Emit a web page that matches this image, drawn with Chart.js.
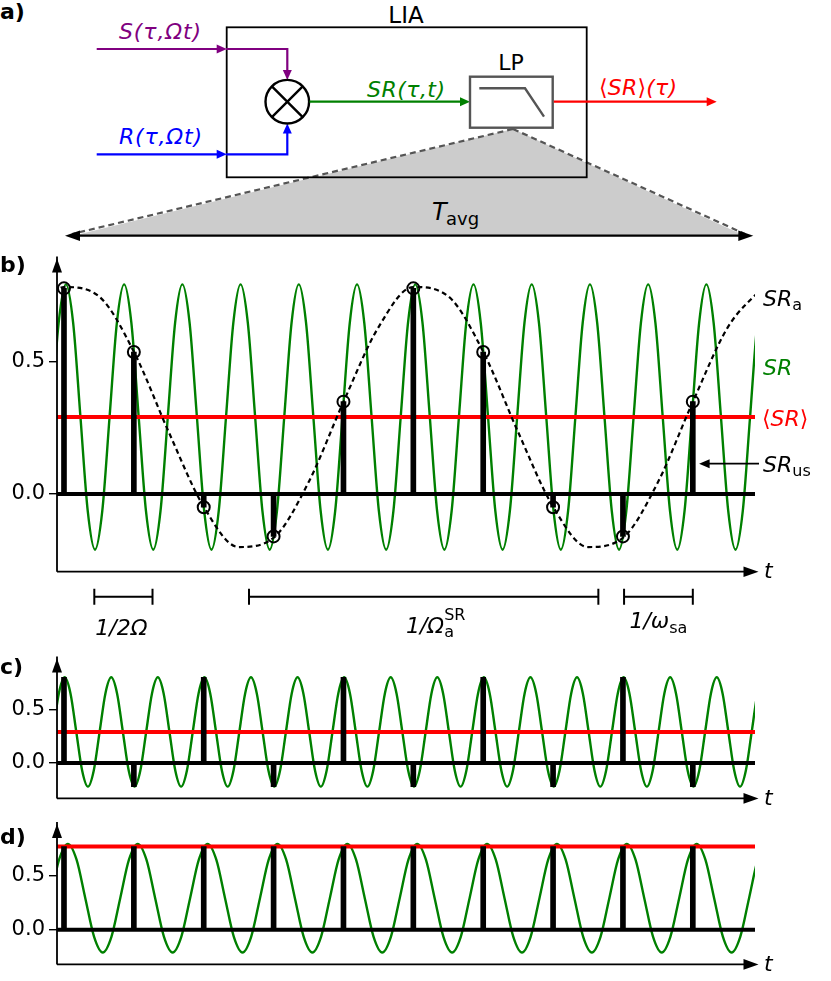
<!DOCTYPE html>
<html>
<head>
<meta charset="utf-8">
<script src="https://cdn.jsdelivr.net/npm/chart.js@4.4.0/dist/chart.umd.min.js"></script>
<style>
  body { margin: 0; background: #fff; }
  #fig { position: relative; width: 831px; height: 981px; font-family: "DejaVu Sans"; }
  #fig svg, #fig canvas { position: absolute; left: 0; }
</style>
</head>
<body>
<div id="fig">
  <svg width="831" height="250" style="top:0" font-family="DejaVu Sans">
    <polygon points="513,129 74,235.5 744,235.5" fill="#cccccc"/>
    <path d="M513,129 L72,234 M513,129 L745,234" stroke="#555" stroke-width="2.2" stroke-dasharray="6,4" fill="none"/>
    <rect x="226.7" y="27.3" width="360" height="150" fill="none" stroke="#000" stroke-width="1.8"/>
    <text x="406" y="23" text-anchor="middle" font-size="23">LIA</text>
    <text x="0" y="19" font-size="22" font-weight="bold">a)</text>

    <path d="M96.7,49 H218 M226,49 H287.3 V71" stroke="#800080" stroke-width="2.2" fill="none"/>
    <polygon points="226.7,49 216.7,44.5 216.7,53.5" fill="#800080"/>
    <polygon points="287.3,80 282.8,70 291.8,70" fill="#800080"/>
    <text x="119" y="39" font-size="22" font-style="italic" fill="#800080" textLength="82" lengthAdjust="spacing">S(τ,Ωt)</text>

    <path d="M96.7,154.3 H218 M226,154.3 H287.3 V132" stroke="#0000ff" stroke-width="2.2" fill="none"/>
    <polygon points="226.7,154.3 216.7,149.8 216.7,158.8" fill="#0000ff"/>
    <polygon points="287.3,123.5 282.8,133.5 291.8,133.5" fill="#0000ff"/>
    <text x="119" y="144" font-size="22" font-style="italic" fill="#0000ff" textLength="83" lengthAdjust="spacing">R(τ,Ωt)</text>

    <circle cx="287.3" cy="101.7" r="21.8" fill="#fff" stroke="#000" stroke-width="2.4"/>
    <path d="M271.9,86.3 L302.7,117.1 M302.7,86.3 L271.9,117.1" stroke="#000" stroke-width="2.4"/>

    <path d="M309.5,101.7 H461" stroke="#008000" stroke-width="2.2" fill="none"/>
    <polygon points="470,101.7 460,97.2 460,106.2" fill="#008000"/>
    <text x="367" y="97" font-size="22" font-style="italic" fill="#008000" textLength="78" lengthAdjust="spacing">SR(τ,t)</text>

    <rect x="470" y="76.7" width="82.7" height="51" fill="#fff" stroke="#555" stroke-width="2.4"/>
    <polyline points="479.3,88.3 525,88.3 544,116.7" fill="none" stroke="#555" stroke-width="2.4"/>
    <text x="511" y="70" text-anchor="middle" font-size="22">LP</text>

    <path d="M553.8,101.7 H707" stroke="#ff0000" stroke-width="2.2" fill="none"/>
    <polygon points="716.7,101.7 706.7,97.2 706.7,106.2" fill="#ff0000"/>
    <text x="599" y="95" font-size="22" font-style="italic" fill="#ff0000" textLength="78" lengthAdjust="spacing"><tspan font-style="normal">⟨</tspan>SR<tspan font-style="normal">⟩</tspan>(τ)</text>

    <path d="M78,235.7 H740" stroke="#000" stroke-width="2.2" fill="none"/>
    <polygon points="65,235.7 80,230.4 80,241" fill="#000"/>
    <polygon points="753.3,235.7 738.3,230.4 738.3,241" fill="#000"/>
    <text x="432" y="220" font-size="24" font-style="italic">T</text>
    <text x="446" y="225" font-size="18">avg</text>
  </svg>
  <canvas id="panelB" width="831" height="400" style="top:250px;width:831px;height:400px"></canvas>
  <canvas id="panelC" width="831" height="165" style="top:650px;width:831px;height:165px"></canvas>
  <canvas id="panelD" width="831" height="166" style="top:815px;width:831px;height:166px"></canvas>
</div>
<script>
// === DADOS ===
const sampleT = [0, 1, 2, 3, 4, 5, 6, 7, 8, 9];
const yTicks = [0, 0.5];
const tRange = [-0.1, 9.89];

// b) SR (8 pontos por periodo), alias SR_a e amostras SR_us
const srStartB = -0.181, srStepB = 0.10417;
const srB = [
  0.29, 0.644, 0.79, 0.644, 0.29, -0.064, -0.21, -0.064,
  0.29, 0.644, 0.79, 0.644, 0.29, -0.064, -0.21, -0.064,
  0.29, 0.644, 0.79, 0.644, 0.29, -0.064, -0.21, -0.064,
  0.29, 0.644, 0.79, 0.644, 0.29, -0.064, -0.21, -0.064,
  0.29, 0.644, 0.79, 0.644, 0.29, -0.064, -0.21, -0.064,
  0.29, 0.644, 0.79, 0.644, 0.29, -0.064, -0.21, -0.064,
  0.29, 0.644, 0.79, 0.644, 0.29, -0.064, -0.21, -0.064,
  0.29, 0.644, 0.79, 0.644, 0.29, -0.064, -0.21, -0.064,
  0.29, 0.644, 0.79, 0.644, 0.29, -0.064, -0.21, -0.064,
  0.29, 0.644, 0.79, 0.644, 0.29, -0.064, -0.21, -0.064,
  0.29, 0.644, 0.79, 0.644, 0.29, -0.064, -0.21, -0.064,
  0.29, 0.644, 0.79, 0.644, 0.29, -0.064, -0.21, -0.064,
  0.29, 0.644, 0.79
];
const aliasT = [-0.5, 0, 0.5, 1, 1.5, 2, 2.5, 3, 3.5, 4, 4.5, 5, 5.5, 6, 6.5, 7, 7.5, 8, 8.5, 9, 9.5, 10];
const aliasB = [0.628, 0.78, 0.745, 0.536, 0.233, -0.048, -0.2, -0.165, 0.044, 0.347,
                0.628, 0.78, 0.745, 0.536, 0.233, -0.048, -0.2, -0.165, 0.044, 0.347, 0.628, 0.78];
const usB = [0.775, 0.535, -0.05, -0.16, 0.348, 0.775, 0.535, -0.05, -0.16, 0.348];
const meanB = 0.29;
// intervalos marcados abaixo de b): 1/2Ω, 1/Ω_a^SR, 1/ω_sa
const spansB = [[0.434, 1.267], [2.648, 7.648], [8.016, 9.0]];

// c)
const srStartC = -0.157, srStepC = 0.08333;
const srC = [
  0.29, 0.65, 0.8, 0.65, 0.29, -0.07, -0.22, -0.07,
  0.29, 0.65, 0.8, 0.65, 0.29, -0.07, -0.22, -0.07,
  0.29, 0.65, 0.8, 0.65, 0.29, -0.07, -0.22, -0.07,
  0.29, 0.65, 0.8, 0.65, 0.29, -0.07, -0.22, -0.07,
  0.29, 0.65, 0.8, 0.65, 0.29, -0.07, -0.22, -0.07,
  0.29, 0.65, 0.8, 0.65, 0.29, -0.07, -0.22, -0.07,
  0.29, 0.65, 0.8, 0.65, 0.29, -0.07, -0.22, -0.07,
  0.29, 0.65, 0.8, 0.65, 0.29, -0.07, -0.22, -0.07,
  0.29, 0.65, 0.8, 0.65, 0.29, -0.07, -0.22, -0.07,
  0.29, 0.65, 0.8, 0.65, 0.29, -0.07, -0.22, -0.07,
  0.29, 0.65, 0.8, 0.65, 0.29, -0.07, -0.22, -0.07,
  0.29, 0.65, 0.8, 0.65, 0.29, -0.07, -0.22, -0.07,
  0.29, 0.65, 0.8, 0.65, 0.29, -0.07, -0.22, -0.07,
  0.29, 0.65, 0.8, 0.65, 0.29, -0.07, -0.22, -0.07,
  0.29, 0.65, 0.8, 0.65, 0.29, -0.07, -0.22, -0.07,
  0.29, 0.65, 0.8
];
const usC = [0.8, -0.22, 0.8, -0.22, 0.8, -0.22, 0.8, -0.22, 0.8, -0.22];
const meanC = 0.29;

// d)
const srStartD = -0.195, srStepD = 0.125;
const srD = [
  0.29, 0.644, 0.79, 0.644, 0.29, -0.064, -0.21, -0.064,
  0.29, 0.644, 0.79, 0.644, 0.29, -0.064, -0.21, -0.064,
  0.29, 0.644, 0.79, 0.644, 0.29, -0.064, -0.21, -0.064,
  0.29, 0.644, 0.79, 0.644, 0.29, -0.064, -0.21, -0.064,
  0.29, 0.644, 0.79, 0.644, 0.29, -0.064, -0.21, -0.064,
  0.29, 0.644, 0.79, 0.644, 0.29, -0.064, -0.21, -0.064,
  0.29, 0.644, 0.79, 0.644, 0.29, -0.064, -0.21, -0.064,
  0.29, 0.644, 0.79, 0.644, 0.29, -0.064, -0.21, -0.064,
  0.29, 0.644, 0.79, 0.644, 0.29, -0.064, -0.21, -0.064,
  0.29, 0.644, 0.79, 0.644, 0.29, -0.064, -0.21, -0.064,
  0.29, 0.644, 0.79
];
const usD = [0.765, 0.765, 0.765, 0.765, 0.765, 0.765, 0.765, 0.765, 0.765, 0.765];
const meanD = 0.765;

// === DESENHO ===
const FONT = '"DejaVu Sans"';
const IT = `italic 22px ${FONT}`, UP = `22px ${FONT}`, SM = `16px ${FONT}`;

function arrow(ctx, tx, ty, dx, dy, len, half) {
  const bx = tx - dx * len, by = ty - dy * len;
  ctx.beginPath();
  ctx.moveTo(tx, ty);
  ctx.lineTo(bx - dy * half, by + dx * half);
  ctx.lineTo(bx + dy * half, by - dx * half);
  ctx.closePath();
  ctx.fill();
}

// parts: [texto, fonte, deslocamento y, sem avanço]
function drawRuns(ctx, parts, x, y, color, align) {
  ctx.fillStyle = color;
  ctx.textBaseline = 'alphabetic';
  ctx.textAlign = 'left';
  let w = 0;
  parts.forEach(p => { ctx.font = p[1]; if (!p[3]) w += ctx.measureText(p[0]).width; });
  let cx = align === 'center' ? x - w / 2 : x;
  parts.forEach(p => {
    ctx.font = p[1];
    ctx.fillText(p[0], cx, y + p[2]);
    if (!p[3]) cx += ctx.measureText(p[0]).width;
  });
}

function axesPlugin(label, labelY, extra) {
  return {
    id: 'axes',
    afterDatasetsDraw(chart) {
      const { ctx, chartArea: a } = chart;
      ctx.save();
      ctx.strokeStyle = '#000';
      ctx.fillStyle = '#000';
      ctx.lineWidth = 1.8;
      ctx.beginPath();
      ctx.moveTo(a.left, a.bottom);
      ctx.lineTo(a.left, a.top - 10);
      ctx.moveTo(a.left, a.bottom);
      ctx.lineTo(a.right - 8, a.bottom);
      ctx.stroke();
      arrow(ctx, a.left, a.top - 8, 0, -1, 14, 5);
      arrow(ctx, a.right + 3.5, a.bottom, 1, 0, 15, 5.3);
      ctx.font = IT;
      ctx.textBaseline = 'middle';
      ctx.fillText('t', a.right + 9, a.bottom + 1);
      ctx.font = `bold 22px ${FONT}`;
      ctx.textBaseline = 'alphabetic';
      ctx.fillText(label, 0, labelY);
      if (extra) extra(chart);
      ctx.restore();
    }
  };
}

function notesB(chart) {
  const { ctx, chartArea: a, scales: { x, y } } = chart;
  const lx = a.right + 8;
  drawRuns(ctx, [['SR', IT, 0], ['a', SM, 4]], lx, y.getPixelForValue(0.74) + 8, '#000');
  drawRuns(ctx, [['SR', IT, 0]], lx, y.getPixelForValue(0.48) + 8, '#008000');
  drawRuns(ctx, [['⟨', UP, 0], ['SR', IT, 0], ['⟩', UP, 0]], lx - 1, y.getPixelForValue(0.287) + 8, '#ff0000');
  const uy = y.getPixelForValue(0.114);
  drawRuns(ctx, [['SR', IT, 0], ['us', SM, 4]], lx, uy + 8, '#000');
  ctx.strokeStyle = '#000';
  ctx.fillStyle = '#000';
  ctx.lineWidth = 1.8;
  const tip = x.getPixelForValue(9.09);
  ctx.beginPath();
  ctx.moveTo(a.right + 4, uy);
  ctx.lineTo(tip + 8, uy);
  ctx.stroke();
  arrow(ctx, tip, uy, -1, 0, 10.5, 4.5);

  // intervalos
  const by = a.bottom + 25;
  ctx.lineWidth = 2;
  spansB.forEach(s => {
    const x0 = x.getPixelForValue(s[0]), x1 = x.getPixelForValue(s[1]);
    ctx.beginPath();
    ctx.moveTo(x0, by); ctx.lineTo(x1, by);
    ctx.moveTo(x0, by - 8); ctx.lineTo(x0, by + 8);
    ctx.moveTo(x1, by - 8); ctx.lineTo(x1, by + 8);
    ctx.stroke();
  });
  const mid = s => (x.getPixelForValue(s[0]) + x.getPixelForValue(s[1])) / 2;
  drawRuns(ctx, [['1/2Ω', IT, 0]], mid(spansB[0]) - 2, a.bottom + 63, '#000', 'center');
  drawRuns(ctx, [['1/Ω', IT, 0], ['a', SM, 4, true], ['SR', SM, -13]], mid(spansB[1]) + 12, a.bottom + 61, '#000', 'center');
  drawRuns(ctx, [['1/ω', IT, 0], ['sa', SM, 5]], mid(spansB[2]), a.bottom + 56.5, '#000', 'center');
}

function makePanel(id, p) {
  const datasets = [
    {
      data: p.sr.map((v, i) => ({ x: p.srStart + i * p.srStep, y: v })),
      borderColor: '#008000', borderWidth: 2.4, pointRadius: 0,
      cubicInterpolationMode: 'monotone', order: 6
    },
    {
      data: tRange.map(t => ({ x: t, y: p.mean })),
      borderColor: '#ff0000', borderWidth: 4, pointRadius: 0, order: 5
    },
    {
      data: tRange.map(t => ({ x: t, y: 0 })),
      borderColor: '#000', borderWidth: 4, pointRadius: 0, order: 4
    },
    {
      type: 'bar',
      data: sampleT.map((t, i) => ({ x: t, y: p.us[i] })),
      backgroundColor: '#000', barThickness: 5, order: 3
    }
  ];
  if (p.alias) {
    datasets.push({
      data: aliasT.map((t, i) => ({ x: t, y: p.alias[i] })),
      borderColor: '#000', borderWidth: 2.2, borderDash: [5, 3.5], pointRadius: 0,
      cubicInterpolationMode: 'monotone', order: 2
    });
    datasets.push({
      data: sampleT.map((t, i) => ({ x: t, y: p.us[i] })),
      showLine: false, pointRadius: 6, pointBorderWidth: 2,
      pointBorderColor: '#000', pointBackgroundColor: 'rgba(0,0,0,0)', order: 1
    });
  }

  return new Chart(document.getElementById(id), {
    type: 'line',
    data: { datasets },
    options: {
      responsive: false,
      animation: false,
      devicePixelRatio: 1,
      events: [],
      layout: { padding: p.padding },
      plugins: { legend: { display: false }, tooltip: { enabled: false } },
      scales: {
        x: { type: 'linear', min: tRange[0], max: tRange[1], display: false, offset: false },
        y: {
          min: p.yRange[0], max: p.yRange[1],
          afterBuildTicks: s => { s.ticks = yTicks.map(v => ({ value: v })); },
          afterFit: s => { s.width = 57; },
          border: { display: false },
          grid: { drawOnChartArea: false, drawTicks: true, tickLength: 8, color: '#000', lineWidth: 1.4 },
          ticks: { color: '#000', padding: 4, font: { family: 'DejaVu Sans', size: 21 }, callback: v => v.toFixed(1) }
        }
      }
    },
    plugins: [axesPlugin(p.label, p.labelY, p.extra)]
  });
}

makePanel('panelB', {
  sr: srB, srStart: srStartB, srStep: srStepB, alias: aliasB, us: usB, mean: meanB,
  yRange: [-0.293, 0.857], padding: { top: 13.5, bottom: 78.3, left: 0, right: 76 },
  label: 'b)', labelY: 22, extra: notesB
});
makePanel('panelC', {
  sr: srC, srStart: srStartC, srStep: srStepC, us: usC, mean: meanC,
  yRange: [-0.33, 0.9], padding: { top: 14.6, bottom: 11, left: 0, right: 76 },
  label: 'c)', labelY: 24
});
makePanel('panelD', {
  sr: srD, srStart: srStartD, srStep: srStepD, us: usD, mean: meanD,
  yRange: [-0.32, 0.9], padding: { top: 16.9, bottom: 9.3, left: 0, right: 76 },
  label: 'd)', labelY: 29
});
</script>
</body>
</html>
